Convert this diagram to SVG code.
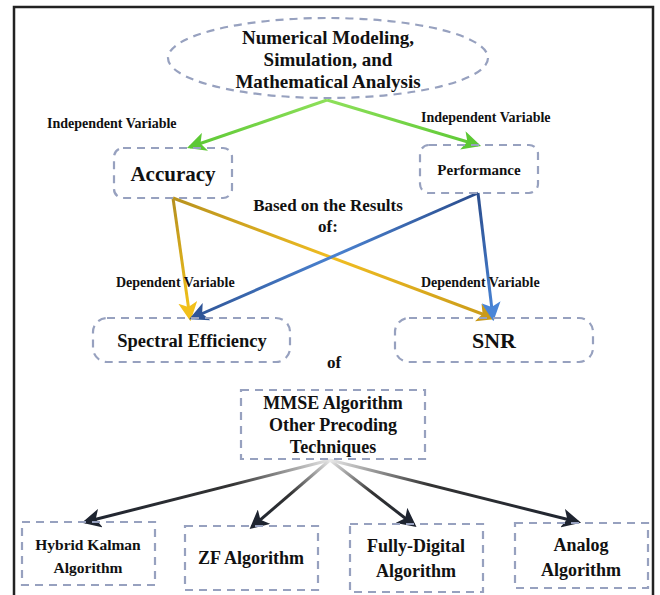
<svg xmlns="http://www.w3.org/2000/svg" width="660" height="595" viewBox="0 0 660 595">
<defs>
<style>
.box{fill:none;stroke:#97a1bf;stroke-width:2.2;stroke-dasharray:8 6}
.t{font-family:"Liberation Serif","Times New Roman",serif;font-weight:bold;fill:#111;text-anchor:middle}
.lbl{font-family:"Liberation Serif","Times New Roman",serif;font-weight:bold;fill:#111;font-size:14px}
.c{fill:none;stroke-width:3}
</style>
<marker id="mG" viewBox="0 0 12 12" refX="10" refY="6" markerWidth="19" markerHeight="19" markerUnits="userSpaceOnUse" orient="auto"><path d="M0,0 L12,6 L0,12 L3,6 z" fill="#5cc834"/></marker>
<marker id="mY" viewBox="0 0 12 12" refX="10" refY="6" markerWidth="19" markerHeight="19" markerUnits="userSpaceOnUse" orient="auto"><path d="M0,0 L12,6 L0,12 L3,6 z" fill="#f2c01a"/></marker>
<marker id="mY2" viewBox="0 0 12 12" refX="10" refY="6" markerWidth="19" markerHeight="19" markerUnits="userSpaceOnUse" orient="auto"><path d="M0,0 L12,6 L0,12 L3,6 z" fill="#c99a1a"/></marker>
<marker id="mB" viewBox="0 0 12 12" refX="10" refY="6" markerWidth="19" markerHeight="19" markerUnits="userSpaceOnUse" orient="auto"><path d="M0,0 L12,6 L0,12 L3,6 z" fill="#2f5597"/></marker>
<marker id="mB2" viewBox="0 0 12 12" refX="10" refY="6" markerWidth="19" markerHeight="19" markerUnits="userSpaceOnUse" orient="auto"><path d="M0,0 L12,6 L0,12 L3,6 z" fill="#4a86d8"/></marker>
<marker id="mK" viewBox="0 0 12 12" refX="10" refY="6" markerWidth="19" markerHeight="19" markerUnits="userSpaceOnUse" orient="auto"><path d="M0,0 L12,6 L0,12 L3,6 z" fill="#1e2430"/></marker>
<linearGradient id="gG1" gradientUnits="userSpaceOnUse" x1="327" y1="100" x2="190" y2="147"><stop offset="0" stop-color="#8ee05a"/><stop offset="1" stop-color="#5cc834"/></linearGradient>
<linearGradient id="gG2" gradientUnits="userSpaceOnUse" x1="327" y1="100" x2="478" y2="145"><stop offset="0" stop-color="#8ee05a"/><stop offset="1" stop-color="#5cc834"/></linearGradient>
<linearGradient id="gY1" gradientUnits="userSpaceOnUse" x1="173" y1="198" x2="190" y2="318"><stop offset="0" stop-color="#b58f20"/><stop offset="1" stop-color="#f5c518"/></linearGradient>
<linearGradient id="gY2" gradientUnits="userSpaceOnUse" x1="173" y1="198" x2="493" y2="318"><stop offset="0" stop-color="#b8921e"/><stop offset="0.5" stop-color="#f0bd22"/><stop offset="1" stop-color="#c99a1a"/></linearGradient>
<linearGradient id="gB1" gradientUnits="userSpaceOnUse" x1="478" y1="193" x2="192" y2="318"><stop offset="0" stop-color="#2a4c8c"/><stop offset="0.5" stop-color="#4a82d0"/><stop offset="1" stop-color="#2f5597"/></linearGradient>
<linearGradient id="gB2" gradientUnits="userSpaceOnUse" x1="478" y1="193" x2="493" y2="318"><stop offset="0" stop-color="#2a4c8c"/><stop offset="1" stop-color="#4a86d8"/></linearGradient>
<linearGradient id="gK1" gradientUnits="userSpaceOnUse" x1="330" y1="460" x2="85" y2="522"><stop offset="0" stop-color="#e8e8e8"/><stop offset="0.4" stop-color="#333"/><stop offset="1" stop-color="#1e2430"/></linearGradient>
<linearGradient id="gK2" gradientUnits="userSpaceOnUse" x1="330" y1="460" x2="252" y2="527"><stop offset="0" stop-color="#e8e8e8"/><stop offset="0.5" stop-color="#333"/><stop offset="1" stop-color="#1e2430"/></linearGradient>
<linearGradient id="gK3" gradientUnits="userSpaceOnUse" x1="330" y1="460" x2="414" y2="525"><stop offset="0" stop-color="#e8e8e8"/><stop offset="0.5" stop-color="#333"/><stop offset="1" stop-color="#1e2430"/></linearGradient>
<linearGradient id="gK4" gradientUnits="userSpaceOnUse" x1="330" y1="460" x2="578" y2="522"><stop offset="0" stop-color="#e8e8e8"/><stop offset="0.4" stop-color="#333"/><stop offset="1" stop-color="#1e2430"/></linearGradient>
</defs>
<rect x="0" y="0" width="660" height="595" fill="#fff"/>
<path d="M14,600 L14,7 L653,7 L653,600" fill="none" stroke="#222" stroke-width="2.5"/>

<g id="connectors">
<line class="c" x1="327" y1="100" x2="190" y2="147" stroke="url(#gG1)" marker-end="url(#mG)"/>
<line class="c" x1="327" y1="100" x2="478" y2="145" stroke="url(#gG2)" marker-end="url(#mG)"/>
<line class="c" x1="173" y1="198" x2="190" y2="318" stroke="url(#gY1)" marker-end="url(#mY)"/>
<line class="c" x1="173" y1="198" x2="493" y2="318" stroke="url(#gY2)" marker-end="url(#mY2)"/>
<line class="c" x1="478" y1="193" x2="192" y2="318" stroke="url(#gB1)" marker-end="url(#mB)"/>
<line class="c" x1="478" y1="193" x2="493" y2="318" stroke="url(#gB2)" marker-end="url(#mB2)"/>
<line class="c" x1="330" y1="460" x2="85" y2="522" stroke="url(#gK1)" marker-end="url(#mK)"/>
<line class="c" x1="330" y1="460" x2="252" y2="527" stroke="url(#gK2)" marker-end="url(#mK)"/>
<line class="c" x1="330" y1="460" x2="414" y2="525" stroke="url(#gK3)" marker-end="url(#mK)"/>
<line class="c" x1="330" y1="460" x2="578" y2="522" stroke="url(#gK4)" marker-end="url(#mK)"/>
<text class="lbl" x="47" y="128">Independent Variable</text>
<text class="lbl" x="421" y="122">Independent Variable</text>
<text class="lbl" x="116" y="287">Dependent Variable</text>
<text class="lbl" x="421" y="287">Dependent Variable</text>
<text class="t" x="328" y="211" font-size="17">Based on the Results</text>
<text class="t" x="328" y="232" font-size="17">of:</text>
<text class="t" x="334" y="368" font-size="17">of</text>
</g>

<g id="n-modeling">
<ellipse class="box" cx="328" cy="58" rx="160" ry="40"/>
<text class="t" x="328" y="44" font-size="19">Numerical Modeling,</text>
<text class="t" x="328" y="66" font-size="19">Simulation, and</text>
<text class="t" x="328" y="88" font-size="19">Mathematical Analysis</text>
</g>
<g id="n-accuracy">
<rect class="box" x="114" y="148" width="118" height="50" rx="9"/>
<text class="t" x="173" y="181" font-size="21">Accuracy</text>
</g>
<g id="n-performance">
<rect class="box" x="420" y="145" width="118" height="48" rx="9"/>
<text class="t" x="479" y="175" font-size="15">Performance</text>
</g>
<g id="n-spectral">
<rect class="box" x="93" y="318" width="197" height="44" rx="14"/>
<text class="t" x="192" y="347" font-size="18.5">Spectral Efficiency</text>
</g>
<g id="n-snr">
<rect class="box" x="395" y="318" width="198" height="44" rx="14"/>
<text class="t" x="494" y="348" font-size="22">SNR</text>
</g>
<g id="n-mmse">
<rect class="box" x="241" y="390" width="184" height="69"/>
<text class="t" x="333" y="409" font-size="18">MMSE Algorithm</text>
<text class="t" x="333" y="431" font-size="18">Other Precoding</text>
<text class="t" x="333" y="453" font-size="18">Techniques</text>
</g>
<g id="n-hybrid">
<rect class="box" x="22" y="522" width="133" height="63"/>
<text class="t" x="88" y="550" font-size="15.5">Hybrid Kalman</text>
<text class="t" x="88" y="573" font-size="15.5">Algorithm</text>
</g>
<g id="n-zf">
<rect class="box" x="185" y="526" width="133" height="64"/>
<text class="t" x="251" y="564" font-size="18">ZF Algorithm</text>
</g>
<g id="n-fully">
<rect class="box" x="350" y="524" width="133" height="68"/>
<text class="t" x="416" y="552" font-size="18">Fully-Digital</text>
<text class="t" x="416" y="577" font-size="18">Algorithm</text>
</g>
<g id="n-analog">
<rect class="box" x="515" y="523" width="133" height="65"/>
<text class="t" x="581" y="551" font-size="18">Analog</text>
<text class="t" x="581" y="576" font-size="18">Algorithm</text>
</g>
</svg>
